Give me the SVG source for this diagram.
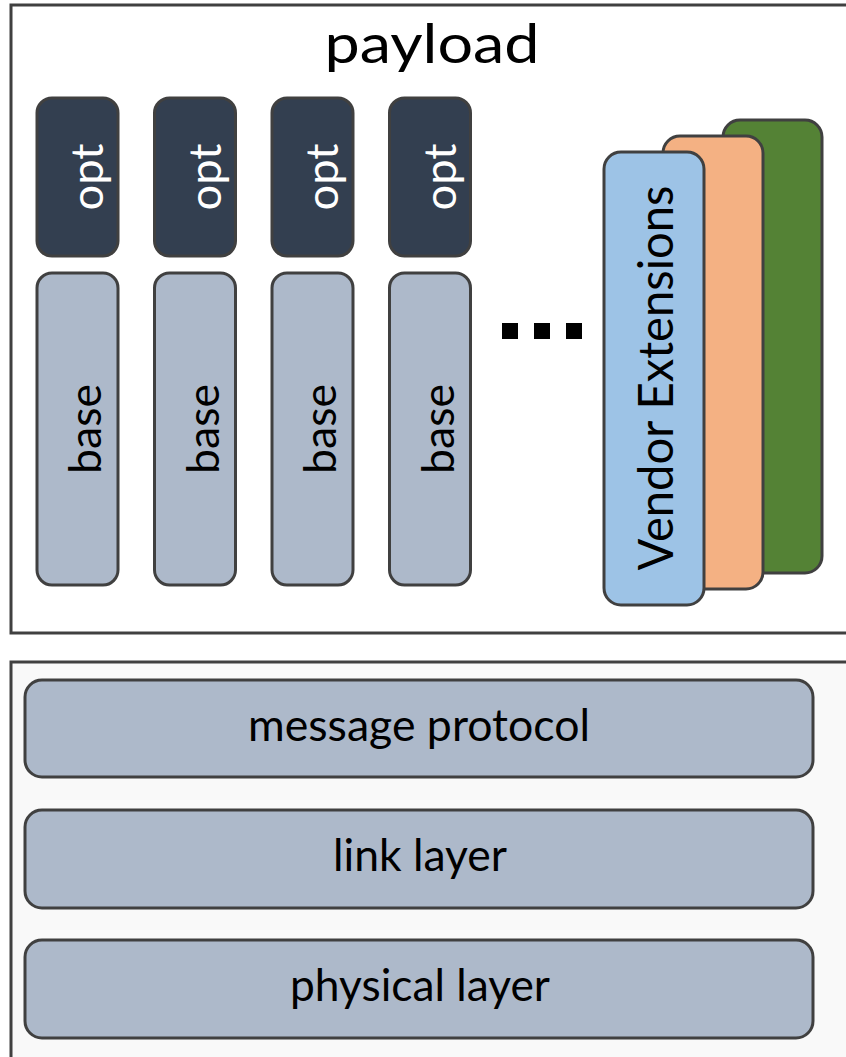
<svg xmlns="http://www.w3.org/2000/svg" width="846" height="1057" viewBox="0 0 846 1057">
  <style>
    .frame { stroke: #404040; stroke-width: 3; }
    .box { stroke: #404040; stroke-width: 3; }
    .opt { fill: #333f50; }
    .base { fill: #adb9ca; }
    .layer { fill: #adb9ca; }
    .lbl { font-family: Lato, "Open Sans", sans-serif; fill: #000; }
    .vlbl { font-size: 44px; text-anchor: middle; }
    .hlbl { font-size: 44px; text-anchor: middle; }
    .white { fill: #ffffff; }
  </style>

  <!-- payload container (runs off the right edge) -->
  <g id="payload">
    <rect class="frame" x="11" y="5" width="860" height="628" fill="#ffffff"/>
    <text class="lbl" x="432" y="63" font-size="54" text-anchor="middle" textLength="215" lengthAdjust="spacingAndGlyphs">payload</text>
  </g>

  <!-- optional fields -->
  <g id="opt1"><rect class="box opt" x="37" y="98" width="81" height="158" rx="15"/>
    <text class="lbl vlbl white" transform="translate(103 177) rotate(-90)" textLength="67" lengthAdjust="spacingAndGlyphs">opt</text></g>
  <g id="opt2"><rect class="box opt" x="154.5" y="98" width="81" height="158" rx="15"/>
    <text class="lbl vlbl white" transform="translate(220.5 177) rotate(-90)" textLength="67" lengthAdjust="spacingAndGlyphs">opt</text></g>
  <g id="opt3"><rect class="box opt" x="272" y="98" width="81" height="158" rx="15"/>
    <text class="lbl vlbl white" transform="translate(338 177) rotate(-90)" textLength="67" lengthAdjust="spacingAndGlyphs">opt</text></g>
  <g id="opt4"><rect class="box opt" x="389.5" y="98" width="81" height="158" rx="15"/>
    <text class="lbl vlbl white" transform="translate(455.5 177) rotate(-90)" textLength="67" lengthAdjust="spacingAndGlyphs">opt</text></g>

  <!-- base fields -->
  <g id="base1"><rect class="box base" x="37" y="273" width="81" height="312" rx="15"/>
    <text class="lbl vlbl" transform="translate(101 429) rotate(-90)" textLength="90" lengthAdjust="spacingAndGlyphs">base</text></g>
  <g id="base2"><rect class="box base" x="154.5" y="273" width="81" height="312" rx="15"/>
    <text class="lbl vlbl" transform="translate(218.5 429) rotate(-90)" textLength="90" lengthAdjust="spacingAndGlyphs">base</text></g>
  <g id="base3"><rect class="box base" x="272" y="273" width="81" height="312" rx="15"/>
    <text class="lbl vlbl" transform="translate(336 429) rotate(-90)" textLength="90" lengthAdjust="spacingAndGlyphs">base</text></g>
  <g id="base4"><rect class="box base" x="389.5" y="273" width="81" height="312" rx="15"/>
    <text class="lbl vlbl" transform="translate(453.5 429) rotate(-90)" textLength="90" lengthAdjust="spacingAndGlyphs">base</text></g>

  <!-- ellipsis -->
  <g id="ellipsis" fill="#000000">
    <rect x="502" y="323" width="16" height="16"/>
    <rect x="534" y="323" width="16" height="16"/>
    <rect x="566" y="323" width="16" height="16"/>
  </g>

  <!-- stacked vendor extension cards -->
  <g id="vendor-extensions">
    <rect class="box" x="723" y="120" width="99" height="453" rx="17" fill="#548235"/>
    <rect class="box" x="663" y="136" width="100" height="453" rx="17" fill="#f4b183"/>
    <rect class="box" x="604" y="152" width="100" height="453" rx="17" fill="#9dc3e6"/>
    <text class="lbl" font-size="48" text-anchor="middle" transform="translate(673 378) rotate(-90)" textLength="385" lengthAdjust="spacingAndGlyphs">Vendor Extensions</text>
  </g>

  <!-- transport stack container (runs off right and bottom edges) -->
  <g id="transport">
    <rect class="frame" x="11" y="662" width="860" height="420" fill="#f9f9f9"/>
  </g>

  <g id="message-protocol">
    <rect class="box layer" x="25" y="680" width="788" height="97" rx="17"/>
    <text class="lbl hlbl" x="419" y="741" textLength="342" lengthAdjust="spacingAndGlyphs">message protocol</text>
  </g>
  <g id="link-layer">
    <rect class="box layer" x="25" y="810" width="788" height="98" rx="17"/>
    <text class="lbl hlbl" x="420" y="871" textLength="174" lengthAdjust="spacingAndGlyphs">link layer</text>
  </g>
  <g id="physical-layer">
    <rect class="box layer" x="25" y="940" width="788" height="98" rx="17"/>
    <text class="lbl hlbl" x="420" y="1001" textLength="260" lengthAdjust="spacingAndGlyphs">physical layer</text>
  </g>

  <!-- no connectors in this figure -->
  <g id="connectors"/>
</svg>
